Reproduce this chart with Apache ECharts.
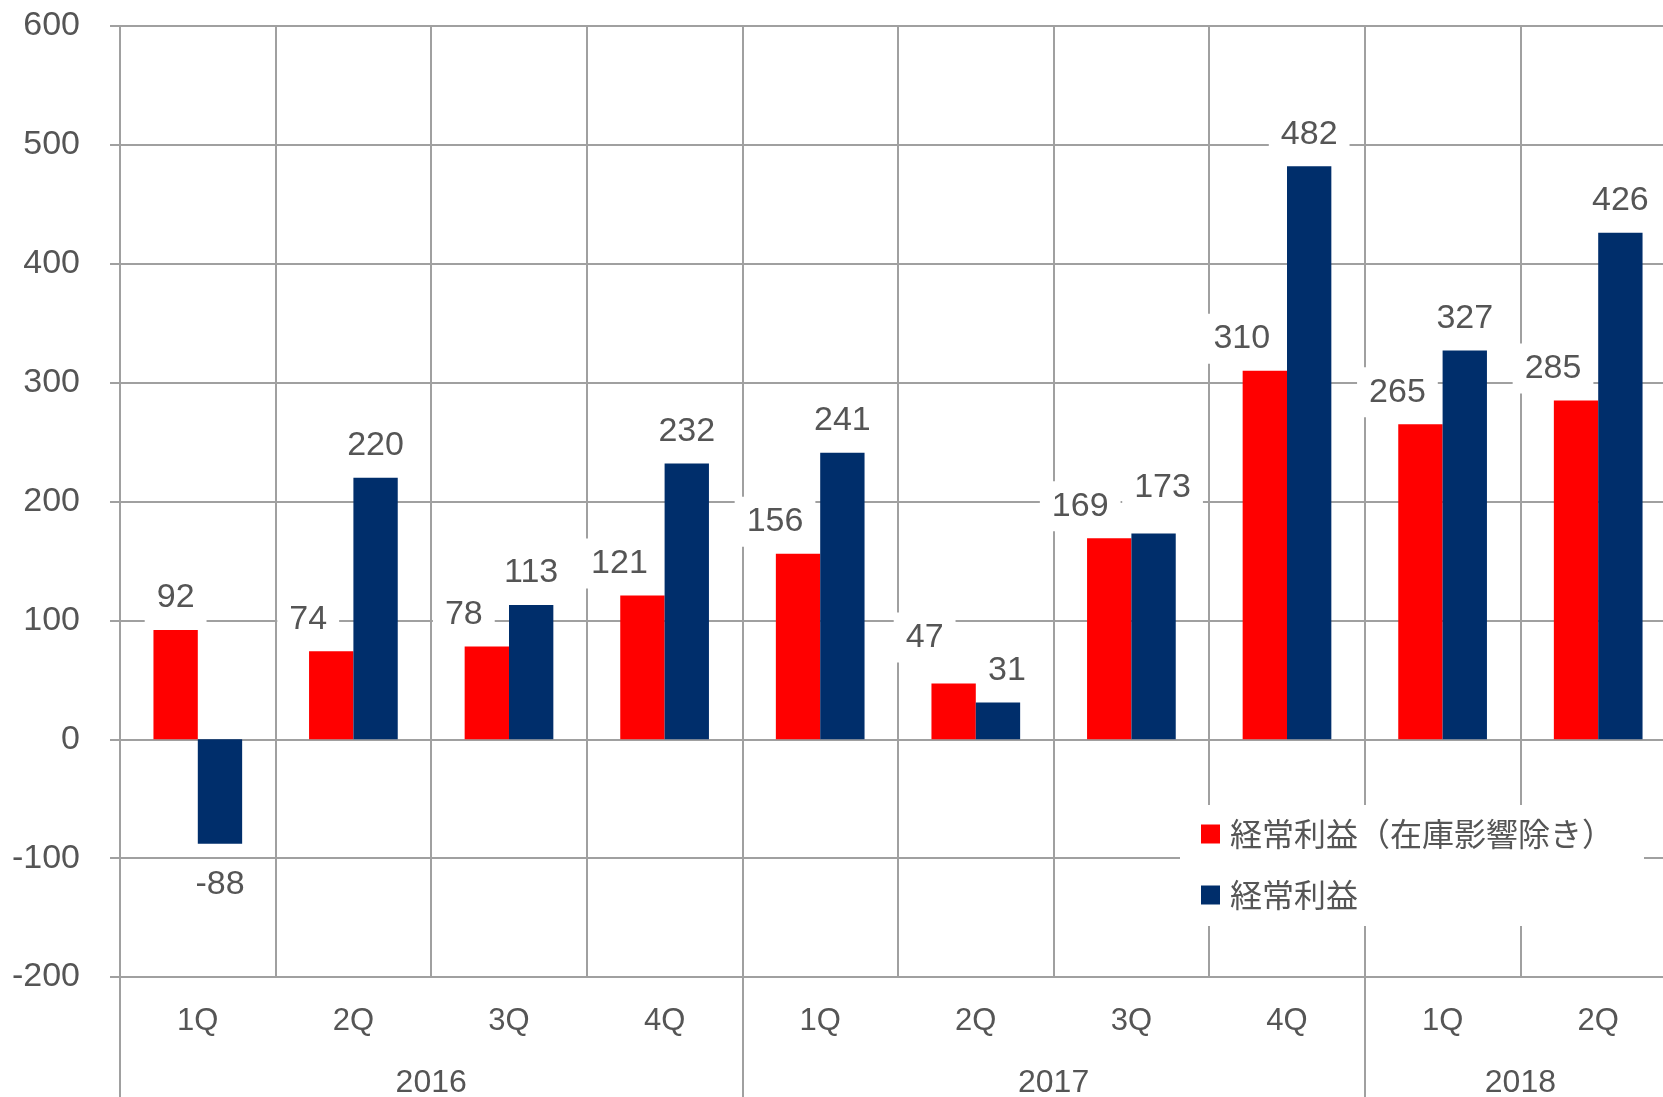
<!DOCTYPE html>
<html>
<head>
<meta charset="utf-8">
<script src="https://cdn.jsdelivr.net/npm/echarts@6/dist/echarts.min.js"></script>
<style>html,body{margin:0;padding:0;background:#fff;overflow:hidden;width:1663px;height:1097px;}#c{width:1676px;height:1097px;}</style>
</head>
<body>
<div id="c"></div>
<script>
const quarters = ['1Q','2Q','3Q','4Q','1Q','2Q','3Q','4Q','1Q','2Q'];
const years = ['2016','2017','2018'];
const yearSpans = [4, 4, 2];
const seriesNames = ['経常利益（在庫影響除き）', '経常利益'];
const exInventory = [92, 74, 78, 121, 156, 47, 169, 310, 265, 285];
const ordinary = [-88, 220, 113, 232, 241, 31, 173, 482, 327, 426];
const yTicks = { min: -200, max: 600, interval: 100 };

// year axis categories: boundaries at cumulative spans, names at span midpoints
const yearCats = new Array(quarters.length + 1).fill('');
const yearBoundaries = [0];
let acc = 0;
years.forEach((y, i) => {
  yearCats[acc + yearSpans[i] / 2] = y;
  acc += yearSpans[i];
  yearBoundaries.push(acc);
});

const GRAY = '#A0A0A0';
const TEXT = '#555555';
const FONT = "'Liberation Sans', Arial, sans-serif";

const labelBase = {
  show: true,
  fontSize: 34,
  fontFamily: FONT,
  color: TEXT,
  backgroundColor: '#ffffff',
  padding: [8, 12],
  distance: 7
};

// label collision handling (like the source chart's nudged labels)
const close = (i) => Math.abs(exInventory[i] - ordinary[i]) < 20;

const redData = exInventory.map((v, i) => {
  let dx = ordinary[i] >= 0 ? -23 : 0;
  let dy = 0;
  if (close(i)) { dx = -29; if (v > ordinary[i]) dy = -14; }
  return { value: v, label: { offset: [dx, dy] } };
});
const blueData = ordinary.map((v, i) => {
  let dx = 0, dy = 0;
  if (close(i)) { dx = 9; if (v > exInventory[i]) dy = -14; }
  return {
    value: v,
    label: {
      position: v < 0 ? 'bottom' : 'top',
      distance: v < 0 ? 16 : 7,
      offset: [dx, dy]
    }
  };
});

const chart = echarts.init(document.getElementById('c'), null, { renderer: 'canvas' });
chart.setOption({
  animation: false,
  backgroundColor: '#ffffff',
  grid: { left: 120, right: 0, top: 26, bottom: 120, containLabel: false, outerBoundsMode: 'none' },
  legend: {
    orient: 'vertical',
    left: 1180,
    top: 805,
    padding: [9, 30, 11, 21],
    backgroundColor: '#ffffff',
    itemWidth: 19,
    itemHeight: 19,
    itemGap: 21,
    icon: 'rect',
    textStyle: {
      fontSize: 32,
      lineHeight: 40,
      color: TEXT,
      fontFamily: "'Noto Sans CJK JP', sans-serif",
      padding: [0, 0, 0, 5]
    },
    data: seriesNames
  },
  xAxis: [
    {
      type: 'category',
      data: quarters,
      position: 'bottom',
      axisLine: { show: false },
      axisTick: { show: true, length: 63, interval: 0, lineStyle: { color: GRAY, width: 2 } },
      splitLine: { show: true, interval: 0, lineStyle: { color: GRAY, width: 2 } },
      axisLabel: { interval: 0, fontSize: 31, color: TEXT, fontFamily: FONT, margin: 29 }
    },
    {
      type: 'category',
      data: yearCats,
      boundaryGap: false,
      position: 'bottom',
      axisLine: { show: false },
      axisTick: {
        show: true, length: 130,
        interval: (idx) => yearBoundaries.includes(idx),
        lineStyle: { color: GRAY, width: 2 }
      },
      splitLine: { show: false },
      axisLabel: { interval: 0, fontSize: 32, color: TEXT, fontFamily: FONT, margin: 90 }
    }
  ],
  yAxis: {
    type: 'value',
    min: yTicks.min,
    max: yTicks.max,
    interval: yTicks.interval,
    axisLine: { show: true, lineStyle: { color: GRAY, width: 2 } },
    axisTick: { show: true, length: 10, lineStyle: { color: GRAY, width: 2 } },
    splitLine: { show: true, lineStyle: { color: GRAY, width: 2 } },
    axisLabel: { fontSize: 34, color: TEXT, fontFamily: FONT, margin: 40, padding: [5, 0, 0, 0] }
  },
  series: [
    {
      name: seriesNames[0],
      type: 'bar',
      xAxisIndex: 0,
      data: redData,
      barGap: '0%',
      barCategoryGap: '43%',
      itemStyle: { color: '#FF0000' },
      label: Object.assign({}, labelBase, { position: 'top' }),
      z: 3
    },
    {
      name: seriesNames[1],
      type: 'bar',
      xAxisIndex: 0,
      data: blueData,
      barGap: '0%',
      barCategoryGap: '43%',
      itemStyle: { color: '#002E6B' },
      label: Object.assign({}, labelBase, { position: 'top' }),
      z: 3
    }
  ]
});
</script>
</body>
</html>
